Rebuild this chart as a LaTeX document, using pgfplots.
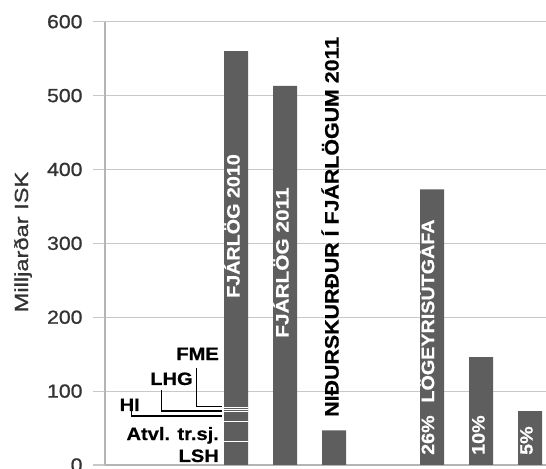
\documentclass[border=0pt]{standalone}
\usepackage{fontspec}
\setmainfont{Liberation Sans}[BoldFeatures={FakeBold=0.6}]
\newfontfamily\tickfont{Liberation Sans}[FakeBold=0.9]
\usepackage{graphicx}
\usepackage{pgfplots}
\pgfplotsset{compat=1.18}
\definecolor{barc}{HTML}{5E5E5E}
\definecolor{gridc}{HTML}{C8C8C8}
\definecolor{axc}{HTML}{B4B4B4}
\definecolor{tickc}{HTML}{333333}
\newcommand\st[2][1.1]{\scalebox{#1}[1]{#2}}
\newcommand\lab{\fontsize{18}{18}\selectfont\bfseries}
\begin{document}
\begin{tikzpicture}
\begin{axis}[
  name=ax, at={(0,0)}, anchor=south west,
  scale only axis, width=441bp, height=443.3bp,
  xmin=-2.6735, xmax=6.3265, ymin=0, ymax=600,
  axis x line=bottom, axis y line=left,
  axis line style={draw=axc, line width=1.2bp, -},
  xtick=\empty,
  ytick={0,100,...,600},
  ymajorgrids, grid style={draw=gridc, line width=1.2bp},
  major tick length=12bp, tick align=outside,
  ytick style={draw=gridc, line width=1.2bp},
  /pgf/number format/assume math mode=true,
  yticklabel={\st[1.12]{\pgfmathprintnumber{\tick}}},
  yticklabel style={font=\tickfont\fontsize{19}{19}\selectfont, text=tickc, anchor=east, xshift=-7bp},
  ylabel={\st[1.25]{Milljarðar ISK}},
  ylabel style={font=\tickfont\fontsize{19}{19}\selectfont, text=tickc, at={(axis description cs:-0.186,0.503)}, anchor=center, rotate=0},
]
\addplot[ybar, bar width=24bp, bar shift=0pt, fill=barc, draw=none]
  coordinates {(0,560) (1,513) (2,47) (4,373) (5,146) (6,73)};
% segment boundaries inside the 2010 bar (LSH, Atvl. tr.sj., HI, LHG, FME)
\addplot[white, line width=1.3bp] coordinates {(-0.245,31.5) (0.245,31.5)};
\addplot[white, line width=1.3bp] coordinates {(-0.245,58.5) (0.245,58.5)};
\addplot[white, line width=1.3bp] coordinates {(-0.245,72) (0.245,72)};
\addplot[white, line width=1.3bp] coordinates {(-0.245,75) (0.245,75)};
\addplot[white, line width=1.3bp] coordinates {(-0.245,78) (0.245,78)};
% callout lines
\addplot[black, line width=1.2bp] coordinates {(-0.802,131.3) (-0.802,78.9) (-0.276,78.9)};
\addplot[black, line width=1.2bp] coordinates {(-1.516,101.5) (-1.516,73.1) (-0.276,73.1)};
\addplot[black, line width=1.2bp] coordinates {(-2.129,74.4) (-2.129,66.3) (-0.276,66.3)};
% labels on the left
\node[anchor=base east, inner sep=0, font=\lab] at (axis cs:-0.347,142.1) {\st[1.12]{FME}};
\node[anchor=base east, inner sep=0, font=\lab] at (axis cs:-0.88,108.3) {\st[1.12]{LHG}};
\node[anchor=base east, inner sep=0, font=\lab] at (axis cs:-1.96,73.1) {\st[1.12]{HI}};
\node[anchor=base east, inner sep=0, font=\lab] at (axis cs:-0.347,33.8) {\st[1.12]{Atvl. tr.sj.}};
\node[anchor=base east, inner sep=0, font=\lab] at (axis cs:-0.347,4.1) {\st[1.12]{LSH}};
% labels along the bars
\node[anchor=west, rotate=90, inner sep=0, text height=0.72em, text depth=0pt, text=white, font=\lab] at (axis cs:0,226) {\st{FJÁRLÖG 2010}};
\node[anchor=west, rotate=90, inner sep=0, text height=0.72em, text depth=0pt, text=white, font=\lab] at (axis cs:1,172) {\st[1.16]{FJÁRLÖG 2011}};
\node[anchor=west, rotate=90, inner sep=0, text height=0.72em, text depth=0pt, text=black, font=\fontsize{19.5}{19.5}\selectfont\bfseries] at (axis cs:2.02,65) {\st{NIÐURSKURÐUR Í FJÁRLÖGUM 2011}};
\node[anchor=west, rotate=90, inner sep=0, text height=0.72em, text depth=0pt, text=white, font=\lab] at (axis cs:3.97,13.5) {\st{26\%\hspace{0.65em}LÖGEYRISÚTGÁFA}};
\node[anchor=west, rotate=90, inner sep=0, text height=0.72em, text depth=0pt, text=white, font=\lab] at (axis cs:5.0,13.5) {\st{10\%}};
\node[anchor=west, rotate=90, inner sep=0, text height=0.72em, text depth=0pt, text=white, font=\lab] at (axis cs:5.98,13.5) {\st{5\%}};
\end{axis}
\pgfresetboundingbox
\path[use as bounding box] ([xshift=-105bp,yshift=-4bp]ax.south west) rectangle ([yshift=21.7bp]ax.north east);
\end{tikzpicture}
\end{document}
